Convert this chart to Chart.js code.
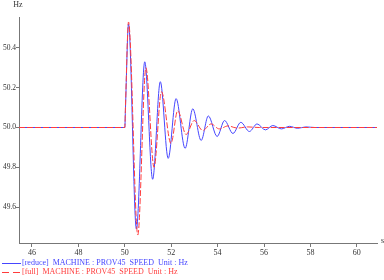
<!DOCTYPE html>
<html>
<head>
<meta charset="utf-8">
<script src="https://cdn.jsdelivr.net/npm/chart.js@4"></script>
<style>
    html, body { margin: 0; padding: 0; background: #fff; }
    #wrap { position: relative; width: 384px; height: 280px; }
</style>
</head>
<body>
<div id="wrap"><canvas id="myChart"></canvas></div>
<script>
'use strict';

// time axis (s) and ticks
var xTicks = [46, 48, 50, 52, 54, 56, 58, 60];
var yTicks = [49.6, 49.8, 50.0, 50.2, 50.4];

// [reduce] series
var reduceTimes = [45.44, 50.00, 50.03, 50.16, 50.50, 50.86, 51.20, 51.53, 51.87, 52.21, 52.60, 52.93,
    53.29, 53.60, 53.98, 54.30, 54.66, 55.00, 55.37, 55.70, 56.06, 56.38, 56.75, 57.10, 57.45, 57.80, 58.20, 60.87];
var reduceSpeed = [50.0, 50.0, 50.10, 50.52, 49.49, 50.33, 49.74, 50.23, 49.845, 50.145, 49.895, 50.094,
    49.935, 50.058, 49.955, 50.035, 49.97, 50.026, 49.98, 50.018, 49.988, 50.01, 49.993, 50.006, 49.996, 50.003, 50.0, 50.0];

// [full] series
var fullTimes = [45.44, 50.00, 50.03, 50.16, 50.56, 50.91, 51.26, 51.58, 51.99, 52.28, 52.64, 52.99,
    53.36, 53.72, 54.07, 54.45, 54.85, 55.30, 55.80, 60.87];
var fullSpeed = [50.0, 50.0, 50.11, 50.53, 49.46, 50.30, 49.80, 50.18, 49.92, 50.085, 49.965, 50.035,
    49.985, 50.018, 49.993, 50.008, 49.997, 50.003, 50.0, 50.0];

var legendLabels = ['[reduce]  MACHINE : PROV45  SPEED  Unit : Hz', '[full]  MACHINE : PROV45  SPEED  Unit : Hz'];

function toPoints(xs, ys) {
    var pts = [];
    for (var i = 0; i < xs.length; i++) {
        pts.push({ x: xs[i], y: ys[i] });
    }
    return pts;
}

var serif = '"Liberation Serif", "DejaVu Serif", serif';

// draws the unit labels and the two-line legend at the bottom
var extraText = {
    id: 'extraText',
    afterDraw: function (chart) {
        var ctx = chart.ctx;
        var area = chart.chartArea;
        var sets = chart.data.datasets;
        var i, y;

        ctx.save();
        ctx.font = '8px ' + serif;
        ctx.fillStyle = '#333';
        ctx.textBaseline = 'middle';
        ctx.textAlign = 'center';
        ctx.fillText('Hz', area.left - 1, 5);
        ctx.textAlign = 'left';
        ctx.fillText('s', area.right + 4, area.bottom - 2);

        for (i = 0; i < sets.length; i++) {
            y = 263 + i * 9;
            ctx.strokeStyle = sets[i].borderColor;
            ctx.lineWidth = 1;
            ctx.setLineDash(sets[i].borderDash ? [7, 4] : []);
            ctx.beginPath();
            ctx.moveTo(2, y + 0.5);
            ctx.lineTo(21, y + 0.5);
            ctx.stroke();
            ctx.fillStyle = sets[i].borderColor;
            ctx.fillText(legendLabels[i], 22, y);
        }
        ctx.restore();
    }
};

var ctx = document.getElementById('myChart');

var myChart = new Chart(ctx, {
    type: 'line',
    data: {
        datasets: [{
            label: legendLabels[0],
            data: toPoints(reduceTimes, reduceSpeed),
            borderColor: '#4646ff',
            borderWidth: 1,
            pointRadius: 0,
            fill: false,
            cubicInterpolationMode: 'monotone',
            order: 1
        }, {
            label: legendLabels[1],
            data: toPoints(fullTimes, fullSpeed),
            borderColor: '#ff3c3c',
            borderWidth: 1,
            borderDash: [6, 2],
            pointRadius: 0,
            fill: false,
            cubicInterpolationMode: 'monotone',
            order: 0
        }]
    },
    options: {
        responsive: true,
        maintainAspectRatio: false,
        animation: false,
        layout: {
            padding: { top: 17, right: 7, left: 0, bottom: 23 }
        },
        plugins: {
            legend: { display: false },
            tooltip: { enabled: false }
        },
        scales: {
            x: {
                type: 'linear',
                min: 45.44,
                max: 60.87,
                afterFit: function (scale) { scale.height = 14; },
                afterBuildTicks: function (scale) {
                    scale.ticks = xTicks.map(function (v) { return { value: v }; });
                },
                ticks: {
                    autoSkip: false,
                    maxRotation: 0,
                    padding: 1,
                    color: '#333',
                    font: { family: serif, size: 8 },
                    callback: function (v) { return String(v); }
                },
                grid: { drawOnChartArea: false, tickLength: 4, color: '#777' },
                border: { color: '#777', width: 1 }
            },
            y: {
                type: 'linear',
                min: 49.42,
                max: 50.555,
                afterFit: function (scale) { scale.width = 19; },
                afterBuildTicks: function (scale) {
                    scale.ticks = yTicks.map(function (v) { return { value: v }; });
                },
                ticks: {
                    autoSkip: false,
                    padding: 0,
                    color: '#333',
                    font: { family: serif, size: 7.5 },
                    callback: function (v) { return Number(v).toFixed(1); }
                },
                grid: { drawOnChartArea: false, tickLength: 3, color: '#777' },
                border: { color: '#777', width: 1 }
            }
        }
    },
    plugins: [extraText]
});
</script>
</body>
</html>
